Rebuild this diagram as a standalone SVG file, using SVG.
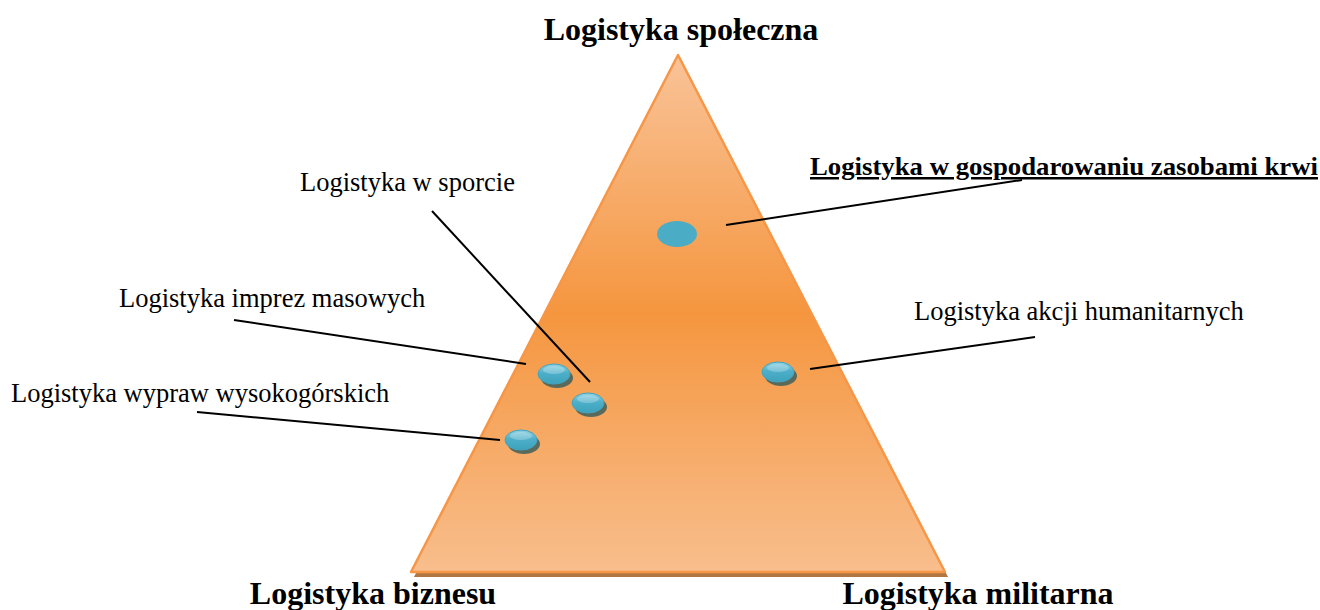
<svg xmlns="http://www.w3.org/2000/svg" width="1320" height="610" viewBox="0 0 1320 610">
<style>
.t{font-family:"Liberation Serif","Times New Roman",serif;fill:#000}
.h{font-size:32px;font-weight:bold}
.n{font-size:26.5px}
.c{stroke:#000;stroke-width:2;fill:none}
</style>
<defs>
<linearGradient id="tri" x1="0" y1="55" x2="0" y2="572" gradientUnits="userSpaceOnUse">
<stop offset="0" stop-color="#f9c398"/>
<stop offset="0.5" stop-color="#f5963f"/>
<stop offset="1" stop-color="#f8be8d"/>
</linearGradient>
<linearGradient id="gl" x1="0" y1="0" x2="0" y2="1">
<stop offset="0" stop-color="#8fd3e4"/>
<stop offset="0.45" stop-color="#4dafc9"/>
<stop offset="1" stop-color="#3ea2bd"/>
</linearGradient>
<g id="dot">
<ellipse cx="3" cy="4" rx="16" ry="10" fill="#3d5f5c" opacity="0.85"/>
<ellipse cx="0" cy="0" rx="16" ry="10" fill="url(#gl)" stroke="#45a4be" stroke-width="1"/>
<ellipse cx="0" cy="-4" rx="11" ry="4" fill="#ffffff" opacity="0.25"/>
</g>
</defs>
<rect width="1320" height="610" fill="#fff"/>
<g id="triangle">
<polygon points="678,60 414,577 948,577" fill="#b07742"/>
<polygon points="678,55 411,572 945,572" fill="url(#tri)" stroke="#f79646" stroke-width="2.5" stroke-linejoin="round"/>
</g>
<g id="connectors">
<line class="c" x1="1022" y1="180" x2="726" y2="225"/>
<line class="c" x1="432" y1="211" x2="590" y2="382"/>
<line class="c" x1="234" y1="320" x2="526" y2="364"/>
<line class="c" x1="1035" y1="337" x2="810" y2="369"/>
<line class="c" x1="197" y1="412" x2="500" y2="440"/>
</g>
<g id="node-krwi-dot"><ellipse cx="677" cy="234" rx="20" ry="13" fill="#4bacc6"/></g>
<g id="node-imprez-dot"><use href="#dot" x="554" y="374"/></g>
<g id="node-sporcie-dot"><use href="#dot" x="588" y="403"/></g>
<g id="node-wypraw-dot"><use href="#dot" x="521" y="440"/></g>
<g id="node-akcji-dot"><use href="#dot" x="778" y="372"/></g>
<g id="label-spoleczna"><text class="t h" x="681" y="40" text-anchor="middle">Logistyka społeczna</text></g>
<g id="label-biznesu"><text class="t h" x="373" y="604" text-anchor="middle">Logistyka biznesu</text></g>
<g id="label-militarna"><text class="t h" x="978" y="604" text-anchor="middle">Logistyka militarna</text></g>
<g id="label-krwi"><text class="t" x="810" y="175" font-size="25" font-weight="bold" text-decoration="underline" textLength="508" lengthAdjust="spacingAndGlyphs">Logistyka w gospodarowaniu zasobami krwi</text></g>
<g id="label-sporcie"><text class="t n" x="300" y="191">Logistyka w sporcie</text></g>
<g id="label-imprez"><text class="t n" x="119" y="307">Logistyka imprez masowych</text></g>
<g id="label-akcji"><text class="t n" x="914" y="320">Logistyka akcji humanitarnych</text></g>
<g id="label-wypraw"><text class="t n" x="11" y="402">Logistyka wypraw wysokogórskich</text></g>
</svg>
